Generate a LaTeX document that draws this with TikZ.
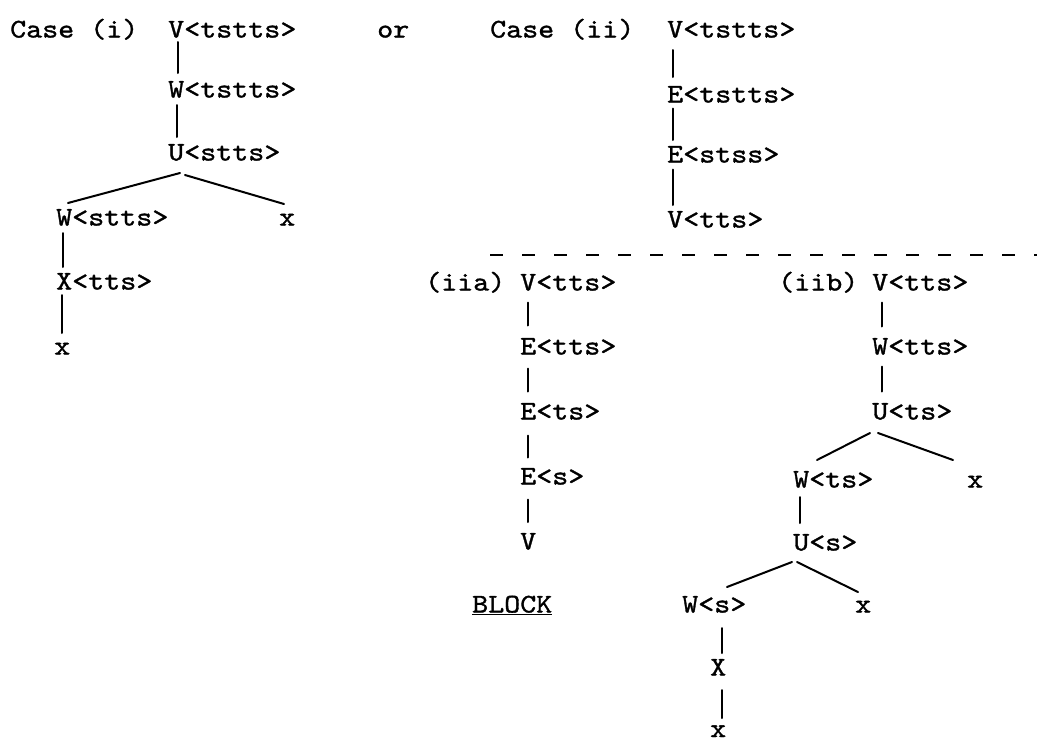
\documentclass[tikz,border=0pt]{standalone}
\usepackage{fontspec}
\setmonofont{lmmono10-regular}[Extension=.otf,FakeStretch=1.13,FakeBold=1.2]
\usetikzlibrary{calc}
\begin{document}
\begin{tikzpicture}[x=1pt,y=-1pt,
  lbl/.style={anchor=base west,inner sep=0pt,font=\ttfamily\fontsize{27}{32}\selectfont},
  conn/.style={line width=2pt,line cap=round},
  sep/.style={line width=2.2pt,dash pattern=on 13pt off 19pt}]
\useasboundingbox (0,0) rectangle (1037,742);
% Case (i)
\node[lbl] (ci) at (10,37.5) {Case (i)};
\node[lbl] (i1) at (168,37.5) {V<tstts>};
\node[lbl] (i2) at (168,97.5) {W<tstts>};
\node[lbl] (i3) at (168,160.5) {U<stts>};
\node[lbl] (i4) at (56,225.5) {W<stts>};
\node[lbl] (i5) at (279,225.5) {x};
\node[lbl] (i6) at (56,289.5) {X<tts>};
\node[lbl] (i7) at (54,354.5) {x};
\node[lbl] (or) at (377,37.5) {or};
\draw[conn] ([shift={(10pt,-4.5pt)}]i1.base west) -- ([shift={(10pt,24.5pt)}]i2.base west);
\draw[conn] ([shift={(9pt,-7.5pt)}]i2.base west) -- ([shift={(9pt,23.5pt)}]i3.base west);
\draw[conn] ([shift={(12pt,-12.5pt)}]i3.base west) -- ([shift={(12pt,22.5pt)}]i4.base west);
\draw[conn] ([shift={(17pt,-14.5pt)}]i3.base west) -- ([shift={(5pt,21.5pt)}]i5.base west);
\draw[conn] ([shift={(7pt,-7.5pt)}]i4.base west) -- ([shift={(7pt,22.5pt)}]i6.base west);
\draw[conn] ([shift={(6pt,-5.5pt)}]i6.base west) -- ([shift={(8pt,21.5pt)}]i7.base west);
% Case (ii)
\node[lbl] (cii) at (490,37.5) {Case (ii)};
\node[lbl] (j1) at (667,37.5) {V<tstts>};
\node[lbl] (j2) at (667,102.5) {E<tstts>};
\node[lbl] (j3) at (667,162.5) {E<stss>};
\node[lbl] (j4) at (667,227.5) {V<tts>};
\draw[conn] ([shift={(6pt,-12.5pt)}]j1.base west) -- ([shift={(6pt,25.5pt)}]j2.base west);
\draw[conn] ([shift={(6pt,-6pt)}]j2.base west) -- ([shift={(6pt,22.5pt)}]j3.base west);
\draw[conn] ([shift={(6pt,-7pt)}]j3.base west) -- ([shift={(6pt,22.5pt)}]j4.base west);
\coordinate (dl) at (490,255);
\coordinate (dr) at (1037,255);
\draw[sep] (dl) -- (dr);
% (iia)
\node[lbl] (a0) at (425,290.5) {(iia)};
\node[lbl] (a1) at (520,290.5) {V<tts>};
\node[lbl] (a2) at (520,354.5) {E<tts>};
\node[lbl] (a3) at (520,419.5) {E<ts>};
\node[lbl] (a4) at (520,484.5) {E<s>};
\node[lbl] (a5) at (520,549.5) {V};
\node[lbl] (blk) at (472,612.5) {\underline{BLOCK}};
\draw[conn] ([shift={(8pt,-12pt)}]a1.base west) -- ([shift={(8pt,29pt)}]a2.base west);
\draw[conn] ([shift={(8pt,-14pt)}]a2.base west) -- ([shift={(8pt,28pt)}]a3.base west);
\draw[conn] ([shift={(8pt,-16pt)}]a3.base west) -- ([shift={(8pt,27pt)}]a4.base west);
\draw[conn] ([shift={(8pt,-15pt)}]a4.base west) -- ([shift={(8pt,27.5pt)}]a5.base west);
% (iib)
\node[lbl] (b0) at (778,290.5) {(iib)};
\node[lbl] (b1) at (872,290.5) {V<tts>};
\node[lbl] (b2) at (872,354.5) {W<tts>};
\node[lbl] (b3) at (872,419.5) {U<ts>};
\node[lbl] (b4) at (793,487.5) {W<ts>};
\node[lbl] (b5) at (967,487.5) {x};
\node[lbl] (b6) at (793,550.5) {U<s>};
\node[lbl] (b7) at (682,612.5) {W<s>};
\node[lbl] (b8) at (855,612.5) {x};
\node[lbl] (b9) at (710,675.5) {X};
\node[lbl] (b10) at (710,737) {x};
\draw[conn] ([shift={(10pt,-12pt)}]b1.base west) -- ([shift={(10pt,28pt)}]b2.base west);
\draw[conn] ([shift={(10pt,-12pt)}]b2.base west) -- ([shift={(10pt,28pt)}]b3.base west);
\draw[conn] ([shift={(-2pt,-13.5pt)}]b3.base west) -- ([shift={(24pt,27.5pt)}]b4.base west);
\draw[conn] ([shift={(6pt,-13.5pt)}]b3.base west) -- ([shift={(-14pt,27.5pt)}]b5.base west);
\draw[conn] ([shift={(7pt,-9.5pt)}]b4.base west) -- ([shift={(7pt,27.5pt)}]b6.base west);
\draw[conn] ([shift={(-1pt,-11.5pt)}]b6.base west) -- ([shift={(45pt,25.5pt)}]b7.base west);
\draw[conn] ([shift={(4pt,-11.5pt)}]b6.base west) -- ([shift={(3pt,20.5pt)}]b8.base west);
\draw[conn] ([shift={(40pt,-15.5pt)}]b7.base west) -- ([shift={(12pt,22.5pt)}]b9.base west);
\draw[conn] ([shift={(12pt,-14.5pt)}]b9.base west) -- ([shift={(12pt,19pt)}]b10.base west);
\end{tikzpicture}
\end{document}
